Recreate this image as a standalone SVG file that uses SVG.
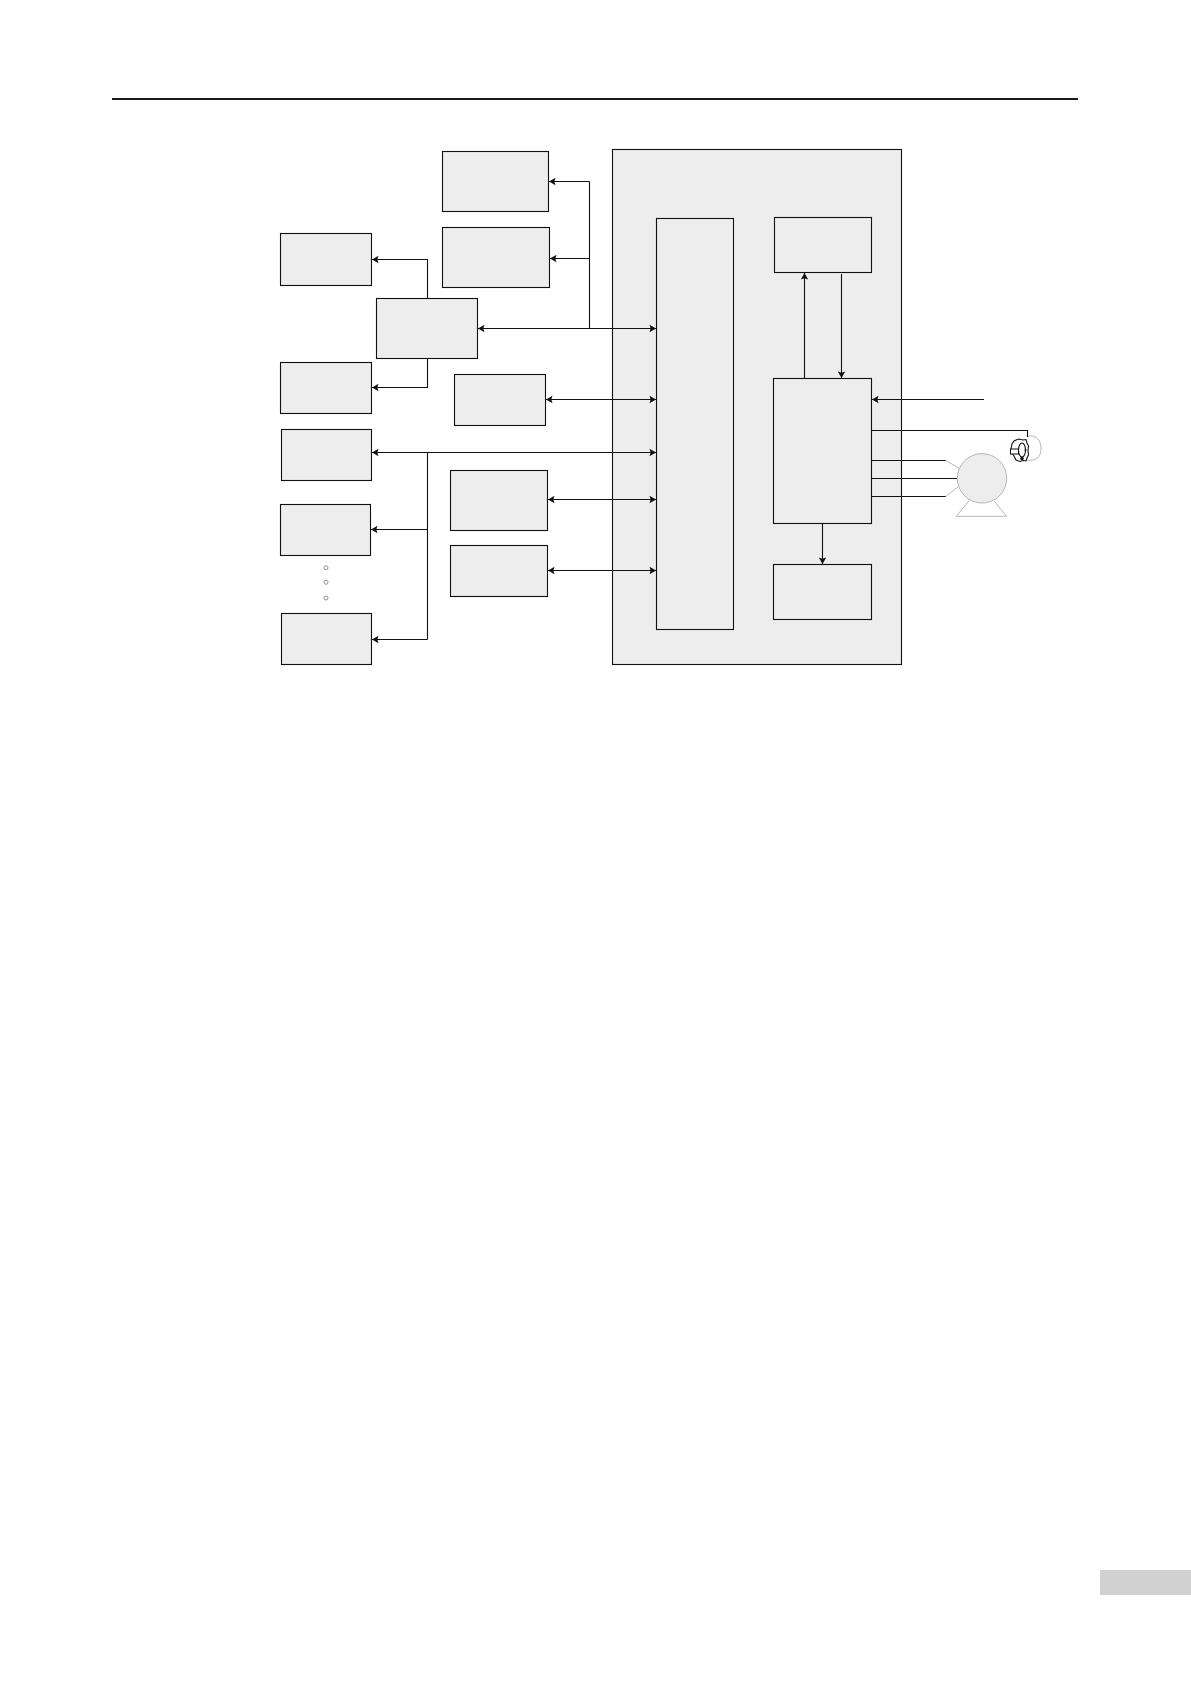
<svg xmlns="http://www.w3.org/2000/svg" width="1191" height="1684" viewBox="0 0 1191 1684">
<style>
.n{fill:#ededed;stroke:#111;stroke-width:1.1}
.c{fill:none;stroke:#111;stroke-width:1.1}
.g{fill:none;stroke:#999;stroke-width:.7}
.a{marker-end:url(#ah)}
.b{marker-start:url(#as);marker-end:url(#ah)}
</style>
<defs>
<marker id="ah" markerUnits="userSpaceOnUse" markerWidth="9" markerHeight="9" refX="7.5" refY="4.5" orient="auto"><path d="M1 .8L7.5 4.5L1 8.2L2.2 4.5Z" fill="#111"/></marker>
<marker id="as" markerUnits="userSpaceOnUse" markerWidth="9" markerHeight="9" refX="1.5" refY="4.5" orient="auto"><path d="M8 .8L1.5 4.5L8 8.2L6.8 4.5Z" fill="#111"/></marker>
</defs>
<rect width="1191" height="1684" fill="#fff"/>
<g id="page-furniture">
<rect x="112" y="98" width="966" height="2" fill="#1a1a1a"/>
<rect x="1100" y="1570" width="91" height="25" fill="#d1d1d1"/>
</g>
<g id="main-unit"><rect class="n" x="612.5" y="149.5" width="289" height="515"/></g>
<g id="box-a"><rect class="n" x="442.5" y="151.5" width="106" height="60"/></g>
<g id="box-b"><rect class="n" x="442.5" y="227.5" width="107" height="60"/></g>
<g id="box-c"><rect class="n" x="280.5" y="233.5" width="91" height="52"/></g>
<g id="box-d"><rect class="n" x="376.5" y="298.5" width="101" height="60"/></g>
<g id="box-e"><rect class="n" x="280.5" y="362.5" width="91" height="51"/></g>
<g id="box-f"><rect class="n" x="454.5" y="374.5" width="91" height="51"/></g>
<g id="box-g"><rect class="n" x="281.5" y="429.5" width="90" height="51"/></g>
<g id="box-h"><rect class="n" x="280.5" y="504.5" width="90" height="51"/></g>
<g id="box-i"><rect class="n" x="281.5" y="613.5" width="90" height="51"/></g>
<g id="box-j"><rect class="n" x="450.5" y="470.5" width="97" height="60"/></g>
<g id="box-k"><rect class="n" x="450.5" y="545.5" width="97" height="51"/></g>
<g id="tall-box"><rect class="n" x="656.5" y="218.5" width="77" height="411"/></g>
<g id="top-right-box"><rect class="n" x="774.5" y="217.5" width="97" height="55"/></g>
<g id="mid-box"><rect class="n" x="773.5" y="378.5" width="98" height="145"/></g>
<g id="bottom-box"><rect class="n" x="773.5" y="564.5" width="98" height="55"/></g>
<g id="dots" fill="none" stroke="#777" stroke-width=".8">
<circle cx="326" cy="567.7" r="2"/><circle cx="326" cy="582.3" r="2"/><circle cx="326" cy="598" r="2"/>
</g>
<g id="motor">
<circle cx="982" cy="478.3" r="24.7" fill="#ededed" stroke="#999" stroke-width=".7"/>
<path class="g" d="M969 500.7L956.3 516.3H1006.7L994 501"/>
<path class="g" d="M945.7 460.5L959 468M945.7 496.5L958 487"/>
</g>
<g id="encoder">
<path class="g" d="M1027 436.5C1036 434 1041 440 1041 448.5C1041 457 1036 462 1025 460"/>
<path d="M1016 440L1019 439L1023 440L1026 439.5L1027 443L1028.5 446L1028 450L1028.5 455L1027 458L1026 461L1023 460.5L1020 461.5L1016 460L1014 456L1012 453L1011 449L1012 444L1014 441Z" fill="#fff" stroke="#111" stroke-width="1.1"/>
<ellipse cx="1022" cy="450" rx="3.5" ry="7" fill="none" stroke="#111" stroke-width="1.1"/>
<rect x="1010.5" y="449" width="8" height="5" fill="#fff" stroke="#111" stroke-width="1"/>
<circle cx="1022" cy="458.5" r="1.8" fill="#111"/><circle cx="1025.5" cy="450" r="1" fill="#111"/>
</g>
<g id="connectors">
<path class="c a" d="M589.5 181.5H549"/>
<path class="c a" d="M589.5 258.5H550"/>
<path class="c" d="M589.5 181.5V328.5"/>
<path class="c b" d="M478 328.5H656"/>
<path class="c a" d="M427.5 298.5V259.5H372"/>
<path class="c a" d="M427.5 358.5V387.5H372"/>
<path class="c b" d="M546 399.5H656"/>
<path class="c b" d="M372 452.5H656"/>
<path class="c" d="M427.5 452.5V639.5"/>
<path class="c a" d="M427.5 529.5H371"/>
<path class="c a" d="M427.5 639.5H372"/>
<path class="c b" d="M548 499.5H656"/>
<path class="c b" d="M548 570.5H656"/>
<path class="c a" d="M804.5 378.5V273"/>
<path class="c a" d="M841.5 274V378"/>
<path class="c a" d="M822.5 523.5V564"/>
<path class="c a" d="M984 399.5H872"/>
<path class="c" d="M871.5 430.5H1027.5V437"/>
<path class="c" d="M871.5 460.5H945.7M871.5 478.5H957M871.5 496.5H945.7"/>
</g>
</svg>
